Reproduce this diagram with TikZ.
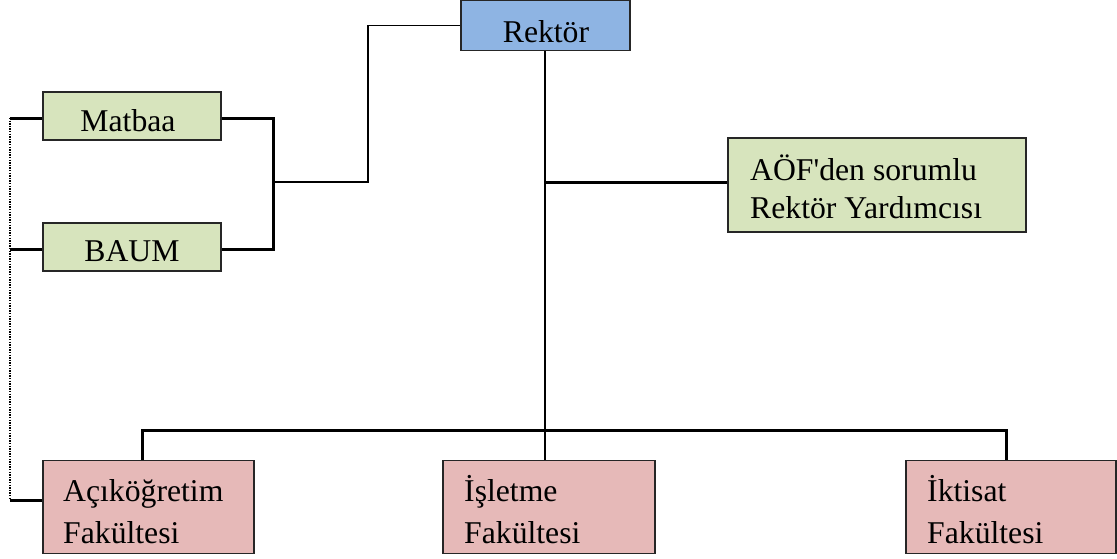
\documentclass[tikz,border=0pt]{standalone}
\usepackage{fontspec}
\setmainfont{Liberation Serif}
\newfontfamily\aposfont{Liberation Serif}[Mapping=]
\definecolor{rblue}{HTML}{8EB4E3}
\definecolor{rgreen}{HTML}{D7E4BD}
\definecolor{rpink}{HTML}{E6B9B8}
\begin{document}
\begin{tikzpicture}[x=1pt,y=-1pt,
  box/.style={draw=black!85, line width=1.8pt, rectangle, inner sep=0pt, anchor=center},
  txt/.style={anchor=base west, inner sep=0pt, font=\fontsize{31.7}{38}\selectfont},
  txtc/.style={anchor=base, inner sep=0pt, font=\fontsize{31.7}{38}\selectfont},
  thickline/.style={line width=3pt},
  thinline/.style={line width=1.8pt},
  dotline/.style={line width=1.3pt, dash pattern=on 1.3pt off 1.3pt}]
\useasboundingbox (0,0) rectangle (1117,558);
% boxes
\node[box, fill=rblue, minimum width=169pt, minimum height=50pt] (rektor) at (545.5,25.5) {};
\node[txtc] at (546,42) {Rektör};
\node[box, fill=rgreen, minimum width=178pt, minimum height=48pt] (matbaa) at (132,116) {};
\node[txtc] at (128,131) {Matbaa};
\node[box, fill=rgreen, minimum width=178pt, minimum height=48pt] (baum) at (132,247) {};
\node[txtc] at (132,261) {BAUM};
\node[box, fill=rgreen, minimum width=298pt, minimum height=94pt] (aof) at (877,185) {};
\node[txt] at (750,180) {AÖF{\aposfont\symbol{39}}den sorumlu};
\node[txt] at (750,218) {Rektör Yardımcısı};
\node[box, fill=rpink, minimum width=211pt, minimum height=93pt] (acik) at (148.5,507) {};
\node[txt] at (63,501) {Açıköğretim};
\node[txt] at (63,543) {Fakültesi};
\node[box, fill=rpink, minimum width=212pt, minimum height=93pt] (isl) at (549,507) {};
\node[txt] at (464,501) {İşletme};
\node[txt] at (464,543) {Fakültesi};
\node[box, fill=rpink, minimum width=210pt, minimum height=93pt] (ikt) at (1011,507) {};
\node[txt] at (927,501) {İktisat};
\node[txt] at (927,543) {Fakültesi};
% junction coordinates
\coordinate (j1) at (368,182);
\coordinate (brk) at (273,182);
\coordinate (bt) at (273,118);
\coordinate (bb) at (273,249);
\coordinate (d1) at (10,118);
\coordinate (d2) at (10,249);
\coordinate (d3) at (10,500);
\coordinate (v1) at (545,182);
\coordinate (bus) at (545,430);
\coordinate (b1) at (142,430);
\coordinate (b3) at (1006,430);
% connectors
\draw[thinline] (rektor.west) -| (j1) -- (brk);
\draw[thickline] (matbaa.east |- bt) -- (bt) -- (bb) -- (baum.east |- bb);
\draw[thickline] (d1) -- (matbaa.west |- d1);
\draw[thickline] (d2) -- (baum.west |- d2);
\draw[thickline] (d3) -- (acik.west |- d3);
\draw[dotline] (d1) -- (d3);
\draw[thinline] (rektor.south -| bus) -- (bus);
\draw[thickline] (v1) -- (aof.west |- v1);
\draw[thickline] (b1 |- acik.north) -- (b1) -- (b3) -- (b3 |- ikt.north);
\draw[thinline] (bus) -- (bus |- isl.north);
\end{tikzpicture}
\end{document}
